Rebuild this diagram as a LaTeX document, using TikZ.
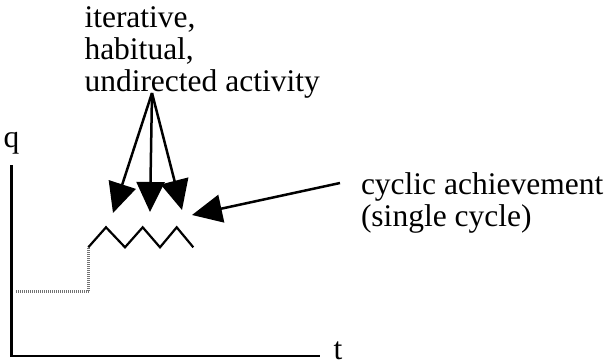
\documentclass[tikz,border=0pt]{standalone}
\usepackage{fontspec}
\setmainfont{Liberation Serif}
\usetikzlibrary{arrows.meta}
\tikzset{
  lbl/.style={inner sep=0pt, outer sep=0pt, anchor=base west,
    font=\fontsize{31.5}{32}\selectfont},
  lblml/.style={lbl, align=left},
  axis/.style={line width=2.5pt, line cap=rect},
  bigarrow/.style={line width=2.5pt, -{Triangle[length=30pt, width=28pt]}},
  zig/.style={line width=2.2pt, line join=miter},
  dots/.style={line width=3pt, draw=black!55, dash pattern=on 1.2pt off 0.8pt}
}
\begin{document}
\begin{tikzpicture}[x=1pt, y=-1pt]
\useasboundingbox (0,0) rectangle (608,362);
% texts (anchor = baseline of the last line)
\node[lblml] (act) at (84.5,91) {iterative,\\habitual,\\undirected activity};
\node[lblml] (cyc) at (361,226) {cyclic achievement\\(single cycle)};
\node[lbl] (q) at (3.5,147) {q};
\node[lbl] (t) at (333.5,359) {t};
% axes
\coordinate (ytop) at (11.5,166);
\coordinate (orig) at (11.5,356);
\coordinate (xend) at (319,356);
\draw[axis] (ytop) -- (orig) -- (xend);
% dotted preceding state
\coordinate (d0) at (16,291);
\coordinate (d1) at (88.5,291);
\coordinate (d2) at (88.5,248);
\draw[dots] (d0) -- (d1);
\draw[dots] (d1) -- (d2);
% zigzag
\draw[zig] (88.3,247.3) -- (106,227.3) -- (125,247.3) -- (142.7,227.3)
  -- (160,247.3) -- (176.7,227.3) -- (193.3,247.3);
% arrows
\coordinate (apex) at (152,93);
\coordinate (tipA) at (113,213);
\coordinate (tipB) at (150,212);
\coordinate (tipC) at (182,210);
\coordinate (cycstart) at (340,183);
\coordinate (tipD) at (192,215);
\draw[bigarrow] (apex) -- (tipA);
\draw[bigarrow] (apex) -- (tipB);
\draw[bigarrow] (apex) -- (tipC);
\draw[bigarrow] (cycstart) -- (tipD);
\end{tikzpicture}
\end{document}
